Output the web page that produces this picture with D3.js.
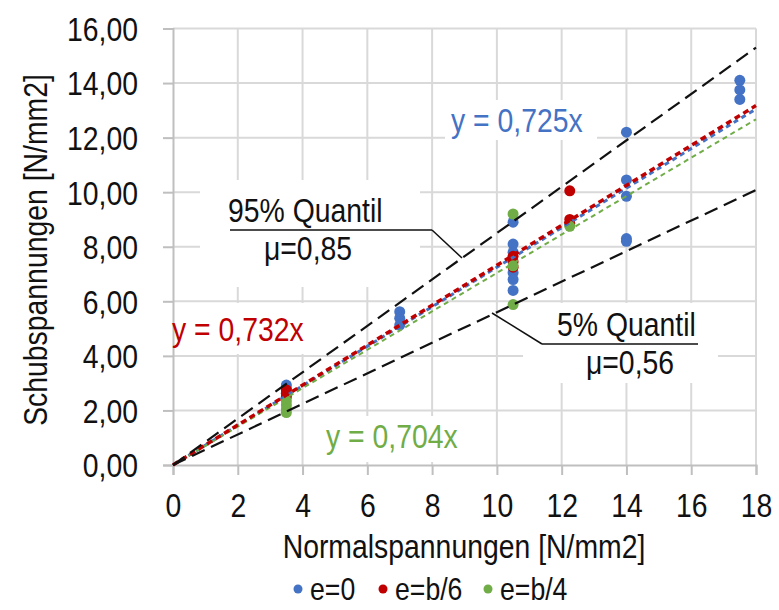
<!DOCTYPE html>
<html>
<head>
<meta charset="utf-8">
<script src="https://cdn.jsdelivr.net/npm/d3@7"></script>
<style>
  html, body { margin: 0; padding: 0; background: #fff; }
  svg text { font-family: "Liberation Sans", Arial, sans-serif; }
</style>
</head>
<body>
<svg id="chart" width="779" height="610"></svg>
<script>
// ---- data ----
const xTicks = [0, 2, 4, 6, 8, 10, 12, 14, 16, 18];
const yTicks = [0, 2, 4, 6, 8, 10, 12, 14, 16];
const seriesNames = ["e=0", "e=b/6", "e=b/4"];
const seriesColors = ["#4472C4", "#C00000", "#70AD47"];
const pointsE0 = [
  [3.5, 2.93], [3.5, 2.8], [3.5, 2.65],
  [7, 5.62], [7, 5.38], [7, 5.13],
  [10.5, 8.9], [10.5, 8.1], [10.5, 7.8], [10.5, 7.05], [10.5, 6.8], [10.5, 6.4],
  [14, 12.2], [14, 10.45], [14, 9.85], [14, 8.3], [14, 8.2],
  [17.5, 14.1], [17.5, 13.75], [17.5, 13.4]
];
const pointsEb6 = [
  [3.5, 2.75], [3.5, 2.62], [3.5, 2.5],
  [10.5, 7.65], [10.5, 7.45], [10.5, 7.25],
  [12.25, 10.05], [12.25, 9.0], [12.25, 8.85]
];
const pointsEb4 = [
  [3.5, 2.35], [3.5, 2.2], [3.5, 2.05], [3.5, 1.92],
  [10.5, 9.2], [10.5, 7.3], [10.5, 5.88],
  [12.25, 8.75]
];
const trendSlopes = [0.725, 0.732, 0.704];
const trendLabels = ["y = 0,725x", "y = 0,732x", "y = 0,704x"];
const quantileSlopes = [0.85, 0.56];
const quantileLabels = [["95% Quantil", "μ=0,85"], ["5% Quantil", "μ=0,56"]];
const xTitle = "Normalspannungen [N/mm2]";
const yTitle = "Schubspannungen [N/mm2]";

// ---- layout ----
const svg = d3.select("#chart");
const X0 = 173, X1 = 756, Y0 = 465, Y1 = 28.5;
const x = d3.scaleLinear().domain([0, 18]).range([X0, X1]);
const y = d3.scaleLinear().domain([0, 16]).range([Y0, Y1]);
const FS = 33;
const SX = 0.86; // horizontal squeeze of text (narrow face look)
const TXT = "#111";

function placeText(sel, ax, ay) {
  return sel.attr("transform", `translate(${ax},${ay}) scale(${SX},1)`).attr("x", 0).attr("y", 0);
}

// gridlines
const grid = svg.append("g");
grid.selectAll("line.v").data(xTicks.slice(1)).join("line")
  .attr("x1", d => x(d)).attr("x2", d => x(d)).attr("y1", Y0).attr("y2", Y1)
  .attr("stroke", "#d9d9d9").attr("stroke-width", 2);
grid.selectAll("line.h").data(yTicks.slice(1)).join("line")
  .attr("x1", X0).attr("x2", X1).attr("y1", d => y(d)).attr("y2", d => y(d))
  .attr("stroke", "#d9d9d9").attr("stroke-width", 2);

// label backgrounds (cover gridlines like the label boxes in the original)
const bgBoxes = [[445, 100, 152, 40], [174, 303, 146, 51], [320, 416, 156, 46], [200, 180, 220, 107], [523, 303, 195, 80]];
svg.append("g").selectAll("rect").data(bgBoxes).join("rect")
  .attr("x", d => d[0]).attr("y", d => d[1]).attr("width", d => d[2]).attr("height", d => d[3]).attr("fill", "#fff");

// axes
const xAxis = d3.axisBottom(x).tickValues(xTicks).tickSize(10).tickFormat(d3.format("d"));
const gx = svg.append("g").attr("transform", `translate(0,${Y0})`).call(xAxis);
gx.select(".domain").attr("stroke", "#bfbfbf").attr("stroke-width", 2);
gx.selectAll(".tick line").attr("stroke", "#bfbfbf").attr("stroke-width", 2);
gx.selectAll(".tick text").attr("font-size", FS).attr("fill", TXT).attr("dy", 0)
  .attr("transform", `translate(0,52) scale(${SX},1)`).attr("y", 0);

const fmt = d => d3.format(".2f")(d).replace(".", ",");
const yAxis = d3.axisLeft(y).tickValues(yTicks).tickSize(10).tickFormat(fmt);
const gy = svg.append("g").attr("transform", `translate(${X0},0)`).call(yAxis);
gy.select(".domain").attr("stroke", "#bfbfbf").attr("stroke-width", 2);
gy.selectAll(".tick line").attr("stroke", "#bfbfbf").attr("stroke-width", 2);
gy.selectAll(".tick text").attr("font-size", FS).attr("fill", TXT).attr("dy", "0.36em")
  .attr("transform", `translate(-35,0) scale(${SX},1)`).attr("x", 0);

// points
const allSeries = [pointsE0, pointsEb6, pointsEb4];
allSeries.forEach((pts, i) => {
  svg.append("g").selectAll("circle").data(pts).join("circle")
    .attr("cx", d => x(d[0])).attr("cy", d => y(d[1])).attr("r", 5.5)
    .attr("fill", seriesColors[i]);
});

// trend lines
const lineGen = d3.line().x(d => x(d[0])).y(d => y(d[1]));
const trendStyles = [
  { w: 3, dash: "5,4" },
  { w: 3.5, dash: "6,4" },
  { w: 2, dash: "5,4" }
];
[0, 2, 1].forEach(i => {
  svg.append("path").datum([[0, 0], [18, 18 * trendSlopes[i]]]).attr("d", lineGen)
    .attr("stroke", seriesColors[i]).attr("stroke-width", trendStyles[i].w)
    .attr("stroke-dasharray", trendStyles[i].dash).attr("fill", "none");
});
// quantile lines
quantileSlopes.forEach(s => {
  svg.append("path").datum([[0, 0], [18, 18 * s]]).attr("d", lineGen)
    .attr("stroke", "#111").attr("stroke-width", 2.2)
    .attr("stroke-dasharray", "14,7").attr("fill", "none");
});

// trend labels
const trendPos = [[451, 132], [172, 341], [326, 448]];
trendLabels.forEach((t, i) => {
  const tx = svg.append("text").text(t).attr("font-size", FS).attr("fill", seriesColors[i]);
  placeText(tx, trendPos[i][0], trendPos[i][1]);
});

// quantile callouts
const callouts = [
  { t1: [228, 222], t2: [308, 260], ul: [[230, 230], [432, 230]], leader: [[432, 230], [462, 258]] },
  { t1: [557, 336], t2: [630, 374], ul: [[542, 344], [698, 344]], leader: [[542, 344], [492, 313]] }
];
callouts.forEach((c, i) => {
  const a = svg.append("text").text(quantileLabels[i][0]).attr("font-size", FS).attr("fill", TXT);
  placeText(a, c.t1[0], c.t1[1]);
  const b = svg.append("text").text(quantileLabels[i][1]).attr("font-size", FS).attr("fill", TXT).attr("text-anchor", "middle");
  placeText(b, c.t2[0], c.t2[1]);
  svg.append("path").datum([c.ul[0], c.ul[1]]).attr("d", d3.line()).attr("stroke", "#111").attr("stroke-width", 1.5).attr("fill", "none");
  svg.append("path").datum([c.leader[0], c.leader[1]]).attr("d", d3.line()).attr("stroke", "#111").attr("stroke-width", 1.5).attr("fill", "none");
});

// axis titles
const xt = svg.append("text").text(xTitle).attr("font-size", FS).attr("fill", TXT).attr("text-anchor", "middle");
placeText(xt, 464, 558);
svg.append("text").text(yTitle).attr("font-size", FS).attr("fill", TXT).attr("text-anchor", "middle")
  .attr("transform", `translate(47,250) rotate(-90) scale(${SX},1)`);

// legend
const legX = [298, 383, 488];
seriesNames.forEach((n, i) => {
  svg.append("circle").attr("cx", legX[i]).attr("cy", 589).attr("r", 4.5).attr("fill", seriesColors[i]);
  const t = svg.append("text").text(n).attr("font-size", 31).attr("fill", TXT);
  placeText(t, legX[i] + 12, 600);
});
</script>
</body>
</html>
